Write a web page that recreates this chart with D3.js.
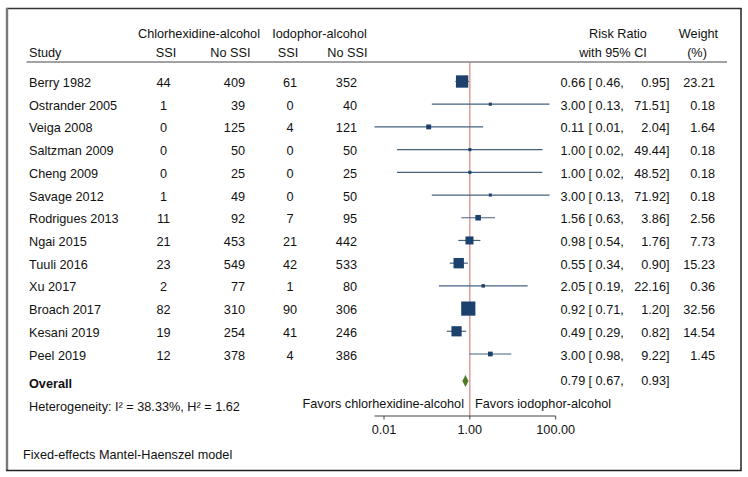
<!DOCTYPE html>
<html><head><meta charset="utf-8">
<script src="https://cdn.jsdelivr.net/npm/d3@7"></script>
<style>body{margin:0;background:#fff}svg{display:block}text{font-family:"Liberation Sans",Arial,Helvetica,sans-serif;font-size:12.7px;fill:#111}</style>
</head><body>
<script>
const studies = ["Berry 1982","Ostrander 2005","Veiga 2008","Saltzman 2009","Cheng 2009","Savage 2012","Rodrigues 2013","Ngai 2015","Tuuli 2016","Xu 2017","Broach 2017","Kesani 2019","Peel 2019"];
const chlorSSI   = [44,1,0,0,0,1,11,21,23,2,82,19,12];
const chlorNoSSI = [409,39,125,50,25,49,92,453,549,77,310,254,378];
const iodoSSI    = [61,0,4,0,0,0,7,21,42,1,90,41,4];
const iodoNoSSI  = [352,40,121,50,25,50,95,442,533,80,306,246,386];
const rr     = [0.66,3.00,0.11,1.00,1.00,3.00,1.56,0.98,0.55,2.05,0.92,0.49,3.00];
const lo     = [0.46,0.13,0.006,0.02,0.02,0.13,0.63,0.54,0.34,0.19,0.71,0.29,0.98];
const hi     = [0.95,71.51,2.04,49.44,48.52,71.92,3.86,1.76,0.90,22.16,1.20,0.82,9.22];
const weight = [23.21,0.18,1.64,0.18,0.18,0.18,2.56,7.73,15.23,0.36,32.56,14.54,1.45];
const overall = {rr:0.79, lo:0.67, hi:0.93};
const tickVals = [0.01, 1, 100];
const tickLabels = ["0.01","1.00","100.00"];

const W = 748, H = 477;
const svg = d3.select("body").append("svg").attr("width",W).attr("height",H);

// frame
svg.append("line").attr("x1",6).attr("x2",741.5).attr("y1",8.5).attr("y2",8.5).attr("stroke","#333").attr("stroke-width",1.6);
svg.append("line").attr("x1",7).attr("x2",7).attr("y1",8).attr("y2",470.5).attr("stroke","#7a7a7a").attr("stroke-width",2.4);
svg.append("line").attr("x1",741).attr("x2",741).attr("y1",8).attr("y2",471).attr("stroke","#222").attr("stroke-width",1.5);
svg.append("line").attr("x1",6).attr("x2",741.5).attr("y1",470.5).attr("y2",470.5).attr("stroke","#222").attr("stroke-width",1.5);

const rowY = d3.scaleLinear().domain([0,12]).range([82.5,355]);
const x = d3.scaleLog().domain([0.01,100]).range([384,555.7]);
const axisY = 416;

function t(xp, yp, str, anchor, extra){
  const el = svg.append("text").attr("x",xp).attr("y",yp).attr("dy","0.36em").attr("text-anchor",anchor||"start").text(str);
  if(extra) extra(el);
  return el;
}

// headers
t(199,33.5,"Chlorhexidine-alcohol","middle");
t(319.5,33.5,"Iodophor-alcohol","middle");
t(29,52,"Study");
t(166,52,"SSI","middle");
t(250.5,52,"No SSI","end");
t(288,52,"SSI","middle");
t(367.5,52,"No SSI","end");
t(618,33.5,"Risk Ratio","middle");
t(613,52,"with 95% CI","middle");
t(698.5,33.5,"Weight","middle");
t(697,52,"(%)","middle");
svg.append("line").attr("x1",26.5).attr("x2",727).attr("y1",62).attr("y2",62).attr("stroke","#444").attr("stroke-width",1);

// reference line at 1
svg.append("line").attr("x1",x(1)).attr("x2",x(1)).attr("y1",62).attr("y2",axisY).attr("stroke","#cc7b75").attr("stroke-width",1.1);

const size = w => 2.1*Math.sqrt(w)+2.2;
const f2 = v => v.toFixed(2);

studies.forEach((s,i)=>{
  const y = rowY(i);
  t(29,y,s);
  t(163.5,y,chlorSSI[i],"middle");
  t(245,y,chlorNoSSI[i],"end");
  t(290,y,iodoSSI[i],"middle");
  t(357,y,iodoNoSSI[i],"end");
  t(560.5,y,f2(rr[i]));
  t(588.5,y,"[ "+f2(lo[i])+",");
  t(669.5,y,f2(hi[i])+"]","end");
  t(715,y,f2(weight[i]),"end");
  const my = y-1;
  svg.append("line").attr("x1",x(lo[i])).attr("x2",x(hi[i])).attr("y1",my).attr("y2",my).attr("stroke","#45627f").attr("stroke-width",1.2);
  const sz = size(weight[i]);
  svg.append("rect").attr("x",x(rr[i])-sz/2).attr("y",my-sz/2).attr("width",sz).attr("height",sz).attr("fill","#1d416d");
});

// overall
const oy = 381;
t(29,383,"Overall",null,el=>el.attr("font-weight","bold"));
t(560.5,380,f2(overall.rr));
t(588.5,380,"[ "+f2(overall.lo)+",");
t(669.5,380,f2(overall.hi)+"]","end");
const dpts = [[x(overall.lo),oy],[x(overall.rr),oy-6],[x(overall.hi),oy],[x(overall.rr),oy+6]];
svg.append("polygon").attr("points",dpts.map(p=>p.join(",")).join(" ")).attr("fill","#4e7a2a");

t(29,406,"Heterogeneity: I\u00B2 = 38.33%, H\u00B2 = 1.62");
t(464,403,"Favors chlorhexidine-alcohol","end");
t(475,403,"Favors iodophor-alcohol","start");

// axis
const axisG = svg.append("g").attr("transform",`translate(0,${axisY})`);
axisG.append("line").attr("x1",x(d3.min(lo))).attr("x2",x(100)).attr("y1",0).attr("y2",0).attr("stroke","#444").attr("stroke-width",1);
tickVals.forEach((v,i)=>{
  axisG.append("line").attr("x1",x(v)).attr("x2",x(v)).attr("y1",0).attr("y2",3.5).attr("stroke","#444").attr("stroke-width",1);
  axisG.append("text").attr("x",x(v)).attr("y",13).attr("dy","0.36em").attr("text-anchor","middle").text(tickLabels[i]);
});

t(23,454,"Fixed-effects Mantel-Haenszel model");
</script>
</body></html>
